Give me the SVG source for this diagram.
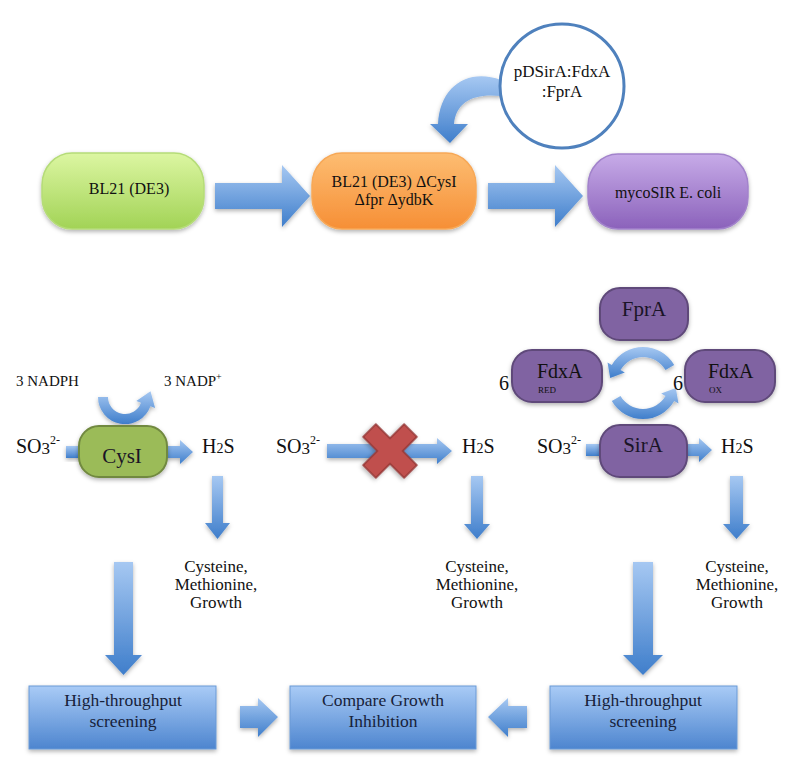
<svg xmlns="http://www.w3.org/2000/svg" width="789" height="768" viewBox="0 0 789 768">
<defs>
  <linearGradient id="gBlue" x1="0" y1="0" x2="0" y2="1">
    <stop offset="0" stop-color="#a6c8f2"/>
    <stop offset="1" stop-color="#3f7ecb"/>
  </linearGradient>
  <linearGradient id="gBox" x1="0" y1="0" x2="0" y2="1">
    <stop offset="0" stop-color="#a9cbf6"/>
    <stop offset="1" stop-color="#4d85cf"/>
  </linearGradient>
  <linearGradient id="gGreen" x1="0" y1="0" x2="0" y2="1">
    <stop offset="0" stop-color="#dcf6a2"/>
    <stop offset="1" stop-color="#a2d356"/>
  </linearGradient>
  <linearGradient id="gOrange" x1="0" y1="0" x2="0" y2="1">
    <stop offset="0" stop-color="#fdbd72"/>
    <stop offset="1" stop-color="#f68f36"/>
  </linearGradient>
  <linearGradient id="gPurple" x1="0" y1="0" x2="0" y2="1">
    <stop offset="0" stop-color="#c7abe8"/>
    <stop offset="1" stop-color="#8b62bb"/>
  </linearGradient>
  <filter id="sh" x="-20%" y="-20%" width="140%" height="150%">
    <feDropShadow dx="0" dy="2" stdDeviation="2" flood-color="#000" flood-opacity="0.3"/>
  </filter>
</defs>
<style>
  text { font-family: "Liberation Serif", "Times New Roman", serif; fill: #111; }
  .lbl { font-size: 16px; }
  .chem { font-size: 20px; }
  .small { font-size: 15px; }
  .prod { font-size: 17px; text-anchor: middle; }
  .box { font-size: 17.5px; text-anchor: middle; fill: #17223a; }
  .enz { font-size: 21px; text-anchor: middle; fill: #1a1426; }
  .arrow { fill: url(#gBlue); filter: url(#sh); }
  .purp { fill: #8064a2; stroke: #5f497a; stroke-width: 2; filter: url(#sh); }
  .bbox { fill: url(#gBox); stroke: #6a9ad6; stroke-width: 1; filter: url(#sh); }
</style>

<g id="connectors">
  <!-- top row block arrows -->
  <polygon class="arrow" points="215,183 282,183 282,165 310,196 282,227 282,209 215,209"/>
  <polygon class="arrow" points="488,183 555,183 555,165 583,196 555,227 555,209 488,209"/>
  <!-- curved arrow from plasmid into strain -->
  <path class="arrow" d="M 501 80 C 468 68, 440 86, 438 124 L 430 124 L 450 143 L 468 124 L 454 124 C 456 101, 475 93, 501 96 Z"/>
  <!-- NADPH U arrow -->
  <path class="arrow" d="M 98 397 A 27 27 0 0 0 150.4 406.2 L 155.1 407.9 L 150.5 391.3 L 136.3 401.1 L 141 402.8 A 17 17 0 0 1 108 397 Z"/>
  <!-- left pathway -->
  <rect class="arrow" x="66" y="446" width="16" height="12"/>
  <polygon class="arrow" points="166,446 180,446 180,440 193,452 180,464 180,458 166,458"/>
  <polygon class="arrow" points="212,476 223,476 223,523 230,523 217.5,539 205,523 212,523"/>
  <!-- middle pathway -->
  <polygon class="arrow" points="327,444 437,444 437,438 452,451 437,464 437,458 327,458"/>
  <polygon class="arrow" points="471,476 483,476 483,524 490,524 477,539 464,524 471,524"/>
  <!-- right pathway -->
  <rect class="arrow" x="586" y="444" width="16" height="12"/>
  <polygon class="arrow" points="686,444 699,444 699,438 712,450 699,462 699,456 686,456"/>
  <polygon class="arrow" points="730,476 743,476 743,524 750,524 736.5,539 723,524 730,524"/>
  <!-- electron transfer cycle -->
  <path class="arrow" d="M 674.2 365 A 36 36 0 0 0 611.8 365 L 607.5 362.5 L 610.2 377.9 L 624.8 372.5 L 620.5 370 A 26 26 0 0 1 665.5 370 Z"/>
  <path class="arrow" d="M 611.8 401 A 36 36 0 0 0 674.2 401 L 678.5 403.5 L 675.8 388.1 L 661.2 393.5 L 665.5 396 A 26 26 0 0 1 620.5 396 Z"/>
  <!-- big down arrows -->
  <polygon class="arrow" points="114,562 133,562 133,655 142,655 123.5,675 105,655 114,655"/>
  <polygon class="arrow" points="633,562 653,562 653,655 663,655 643,675 623,655 633,655"/>
  <!-- bottom horizontal arrows -->
  <polygon class="arrow" points="240,706 258,706 258,698 278,717 258,737 258,728 240,728"/>
  <polygon class="arrow" points="527,706 508,706 508,698 488,717 508,737 508,728 527,728"/>
</g>

<g id="block-x">
  <polygon points="381,422 399,422 399,442 419,442 419,460 399,460 399,480 381,480 381,460 361,460 361,442 381,442" transform="rotate(45 390 451)" fill="#c0504d" stroke="#943634" stroke-width="1.5" filter="url(#sh)"/>
</g>

<g id="bl21">
  <rect x="42" y="153" width="162" height="76" rx="30" ry="32" fill="url(#gGreen)" stroke="#b5dc78" stroke-width="1.5" filter="url(#sh)"/>
  <text class="lbl" x="129" y="194" text-anchor="middle" fill="#1d2a0e">BL21 (DE3)</text>
</g>

<g id="bl21-mutant">
  <rect x="312" y="153" width="164" height="76" rx="30" ry="32" fill="url(#gOrange)" stroke="#f7a857" stroke-width="1.5" filter="url(#sh)"/>
  <text class="lbl" x="394" y="187" text-anchor="middle" fill="#2a1a08">BL21 (DE3) ΔCysI</text>
  <text class="lbl" x="394" y="205" text-anchor="middle" fill="#2a1a08">Δfpr ΔydbK</text>
</g>

<g id="mycosir">
  <rect x="588" y="154" width="160" height="75" rx="30" ry="32" fill="url(#gPurple)" stroke="#a283cb" stroke-width="1.5" filter="url(#sh)"/>
  <text class="lbl" x="668" y="198" text-anchor="middle" fill="#1e1330">mycoSIR E. coli</text>
</g>

<g id="plasmid">
  <circle cx="562" cy="86" r="62" fill="#fff" stroke="#4f81bd" stroke-width="3"/>
  <text x="562" y="77" font-size="17" text-anchor="middle">pDSirA:FdxA</text>
  <text x="562" y="97" font-size="17" text-anchor="middle">:FprA</text>
</g>

<g id="cofactors">
  <text class="small" x="16" y="386">3 NADPH</text>
  <text class="small" x="164" y="386">3 NADP<tspan font-size="10" dy="-6">+</tspan></text>
</g>

<g id="left-pathway">
  <text class="chem" x="16" y="453">SO<tspan font-size="17" dy="1">3</tspan><tspan font-size="12" dy="-10">2-</tspan></text>
  <rect x="79" y="426" width="88" height="51" rx="20" fill="#9bbb59" stroke="#71893f" stroke-width="2" filter="url(#sh)"/>
  <text class="enz" x="122" y="463" fill="#1a2208">CysI</text>
  <text class="chem" x="202" y="453">H<tspan font-size="14">2</tspan>S</text>
  <text class="prod" x="216" y="572">Cysteine,</text>
  <text class="prod" x="216" y="590">Methionine,</text>
  <text class="prod" x="216" y="608">Growth</text>
</g>

<g id="middle-pathway">
  <text class="chem" x="276" y="453">SO<tspan font-size="17" dy="1">3</tspan><tspan font-size="12" dy="-10">2-</tspan></text>
  <text class="chem" x="462" y="453">H<tspan font-size="14">2</tspan>S</text>
  <text class="prod" x="477" y="572">Cysteine,</text>
  <text class="prod" x="477" y="590">Methionine,</text>
  <text class="prod" x="477" y="608">Growth</text>
</g>

<g id="fpra">
  <rect class="purp" x="600" y="288" width="88" height="52" rx="20"/>
  <text class="enz" x="644" y="316">FprA</text>
</g>

<g id="fdxa-red">
  <text class="chem" x="499" y="390">6</text>
  <rect class="purp" x="512" y="350" width="90" height="52" rx="20"/>
  <text class="chem" x="537" y="378">FdxA</text>
  <text x="538" y="393" font-size="9">RED</text>
</g>

<g id="fdxa-ox">
  <text class="chem" x="673" y="390">6</text>
  <rect class="purp" x="685" y="350" width="90" height="52" rx="20"/>
  <text class="chem" x="708" y="378">FdxA</text>
  <text x="709" y="393" font-size="9">OX</text>
</g>

<g id="sira">
  <text class="chem" x="537" y="453">SO<tspan font-size="17" dy="1">3</tspan><tspan font-size="12" dy="-10">2-</tspan></text>
  <rect class="purp" x="600" y="425" width="87" height="52" rx="20"/>
  <text class="enz" x="643" y="452">SirA</text>
  <text class="chem" x="721" y="453">H<tspan font-size="14">2</tspan>S</text>
  <text class="prod" x="737" y="572">Cysteine,</text>
  <text class="prod" x="737" y="590">Methionine,</text>
  <text class="prod" x="737" y="608">Growth</text>
</g>

<g id="hts-left">
  <rect class="bbox" x="29" y="686" width="187" height="63"/>
  <text class="box" x="123" y="706">High-throughput</text>
  <text class="box" x="123" y="727">screening</text>
</g>

<g id="compare">
  <rect class="bbox" x="290" y="686" width="186" height="63"/>
  <text class="box" x="383" y="706">Compare Growth</text>
  <text class="box" x="383" y="727">Inhibition</text>
</g>

<g id="hts-right">
  <rect class="bbox" x="550" y="686" width="187" height="63"/>
  <text class="box" x="643" y="706">High-throughput</text>
  <text class="box" x="643" y="727">screening</text>
</g>
</svg>
